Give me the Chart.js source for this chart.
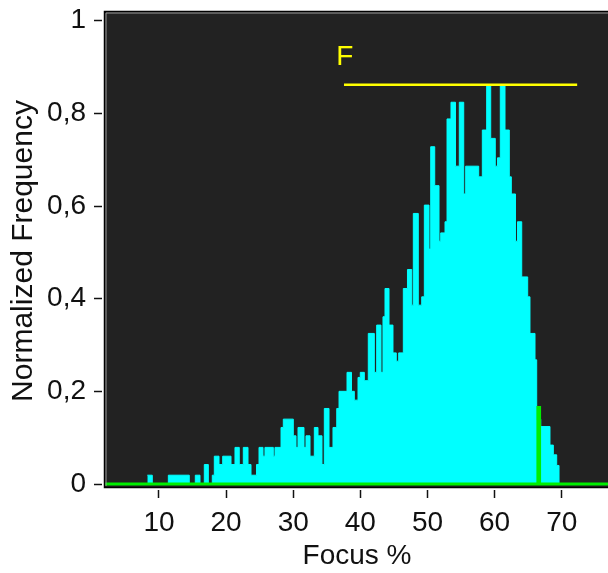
<!DOCTYPE html>
<html>
<head>
<meta charset="utf-8">
<script src="https://cdn.jsdelivr.net/npm/chart.js@4.4.0/dist/chart.umd.min.js"></script>
<style>
  html, body { margin: 0; padding: 0; background: #fff; overflow: hidden; }
  #wrap { width: 616px; height: 573px; }
</style>
</head>
<body>
<div id="wrap"><canvas id="chart"></canvas></div>
<script>
// Focus histogram: left edge of each bin run (Focus %) and its normalized frequency
const binStart = [
  8.26, 9.00, 11.39, 14.51, 15.41, 16.11, 16.75, 17.35, 17.94, 18.24,
  18.94, 19.49, 20.73, 21.32, 21.96, 22.56, 23.26, 23.71, 24.53, 24.90,
  25.49, 25.79, 27.03, 27.28, 28.18, 28.52, 30.01, 30.41, 30.71, 31.60,
  31.90, 32.50, 33.14, 33.69, 34.28, 34.63, 35.33, 35.92, 36.48, 36.82,
  38.01, 38.68, 39.10, 39.65, 39.99, 40.59, 41.18, 42.08, 42.43, 43.07,
  43.37, 43.67, 44.27, 44.86, 45.35, 45.71, 46.40, 47.02, 47.65, 47.89,
  48.63, 49.14, 49.53, 50.23, 50.48, 51.08, 51.72, 51.97, 52.61, 52.91,
  53.50, 54.17, 54.74, 55.40, 55.69, 57.63, 58.17, 58.82, 59.42, 60.10,
  60.43, 60.85, 61.55, 62.19, 62.49, 63.11, 63.41, 64.04, 64.93, 65.27,
  66.02, 66.27, 66.87, 68.25, 68.75, 69.25, 69.60
];
const binFreq = [
  0.019, 0, 0.019, 0, 0.019, 0, 0.042, 0, 0.019, 0.06,
  0.042, 0.06, 0.042, 0.079, 0.042, 0.079, 0.042, 0.019, 0.042, 0.079,
  0.06, 0.079, 0.06, 0.079, 0.122, 0.14, 0.104, 0.079, 0.122, 0.079,
  0.104, 0.06, 0.122, 0.104, 0.042, 0.163, 0.079, 0.122, 0.163, 0.2,
  0.241, 0.2, 0.181, 0.23, 0.241, 0.223, 0.325, 0.241, 0.343, 0.241,
  0.361, 0.422, 0.343, 0.283, 0.265, 0.283, 0.422, 0.463, 0.386, 0.584,
  0.386, 0.404, 0.602, 0.507, 0.728, 0.644, 0.524, 0.542, 0.566, 0.788,
  0.824, 0.686, 0.824, 0.626, 0.686, 0.663, 0.764, 0.861, 0.746, 0.686,
  0.704, 0.861, 0.764, 0.663, 0.626, 0.524, 0.566, 0.447, 0.404, 0.325,
  0.268, 0.14, 0.124, 0.084, 0.063, 0.04, 0
];

// second (green) series: empty except one bin
const greenStart = [1.96, 66.45, 66.70, 77.5];
const greenFreq = [0, 0.165, 0, 0];

// "F" marker line
const fLineX = [37.56, 72.3];
const fLineY = 0.862;
const fLabel = 'F';
const fLabelPos = [36.4, 0.905];

const xTicks = [10, 20, 30, 40, 50, 60, 70];
const yTicks = [0, 0.2, 0.4, 0.6, 0.8, 1];
const xRange = [1.508, 77.49];
const yRange = [-0.01295, 1.0188];

const FONT = { family: "'Liberation Sans', Arial, sans-serif", size: 28 };
const YTITLE_FONT = { family: "'Liberation Sans', Arial, sans-serif", size: 30 };

const plotBox = {
  id: 'plotBox',
  beforeDraw(chart) {
    const { ctx, chartArea: a } = chart;
    ctx.save();
    ctx.fillStyle = '#222222';
    ctx.fillRect(a.left + 3, a.top, a.right - a.left, a.bottom - a.top - 3);
    ctx.restore();
  },
  afterDatasetsDraw(chart) {
    const { ctx, chartArea: a, scales } = chart;
    ctx.save();
    ctx.strokeStyle = '#000';
    ctx.lineWidth = 1.5;
    ctx.strokeRect(a.left + 2.5, a.top - 0.5, a.right - a.left + 10, a.bottom - a.top - 2);
    ctx.strokeStyle = '#9a9a9a';
    ctx.lineWidth = 1;
    ctx.beginPath();
    ctx.moveTo(a.left + 4, a.top + 1);
    ctx.lineTo(a.left + 4, a.bottom - 4);
    ctx.moveTo(a.left + 4, a.top + 1);
    ctx.lineTo(a.right + 10, a.top + 1);
    ctx.stroke();
    // F label
    ctx.fillStyle = '#ffff00';
    ctx.font = FONT.size + 'px ' + FONT.family;
    ctx.textAlign = 'left';
    ctx.textBaseline = 'alphabetic';
    ctx.fillText(fLabel, scales.x.getPixelForValue(fLabelPos[0]), scales.y.getPixelForValue(fLabelPos[1]));
    ctx.restore();
  }
};

new Chart(document.getElementById('chart'), {
  type: 'line',
  data: {
    datasets: [
      {
        data: fLineX.map(x => ({ x, y: fLineY })),
        borderColor: '#ffff00',
        borderWidth: 2.5,
        pointRadius: 0,
        fill: false,
        order: 0
      },
      {
        data: greenStart.map((x, i) => ({ x, y: greenFreq[i] })),
        stepped: true,
        borderColor: '#00ee00',
        backgroundColor: '#00ee00',
        borderWidth: 3,
        pointRadius: 0,
        fill: 'origin',
        order: 1
      },
      {
        data: binStart.map((x, i) => ({ x, y: binFreq[i] })),
        stepped: true,
        borderColor: '#00ffff',
        backgroundColor: '#00ffff',
        borderWidth: 1,
        pointRadius: 0,
        fill: 'origin',
        order: 2
      }
    ]
  },
  options: {
    responsive: true,
    maintainAspectRatio: false,
    animation: false,
    layout: { padding: { left: 0, top: 12, right: 4, bottom: 0 } },
    plugins: { legend: { display: false }, tooltip: { enabled: false } },
    scales: {
      x: {
        type: 'linear',
        min: xRange[0],
        max: xRange[1],
        afterBuildTicks: s => { s.ticks = xTicks.map(v => ({ value: v })); },
        afterFit: s => { s.height = 83; s.paddingLeft = 0; s.paddingRight = 0; },
        ticks: { color: '#111', font: FONT, padding: 8, maxRotation: 0 },
        grid: { drawOnChartArea: false, tickLength: 8, tickWidth: 1.5, tickColor: '#111' },
        border: { display: false },
        title: { display: true, text: 'Focus %', color: '#111', font: FONT, padding: { top: 0, bottom: 0 } }
      },
      y: {
        min: yRange[0],
        max: yRange[1],
        afterBuildTicks: s => { s.ticks = yTicks.map(v => ({ value: v })); },
        afterFit: s => { s.width = 102; s.paddingTop = 0; s.paddingBottom = 0; },
        ticks: { color: '#111', font: FONT, padding: 8, callback: v => String(v).replace('.', ',') },
        grid: { drawOnChartArea: false, tickLength: 8, tickWidth: 1.5, tickColor: '#111' },
        border: { display: false },
        title: { display: true, text: 'Normalized Frequency', color: '#111', font: YTITLE_FONT, padding: { top: 6, bottom: 0 } }
      }
    }
  },
  plugins: [plotBox]
});
</script>
</body>
</html>
